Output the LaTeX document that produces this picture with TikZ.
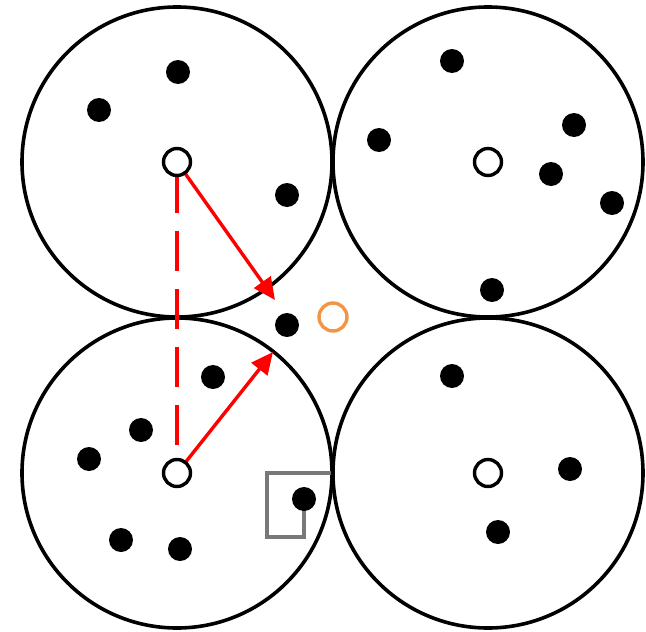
\documentclass[tikz,border=0pt]{standalone}
\usetikzlibrary{arrows.meta}
\definecolor{orangec}{RGB}{240,150,70}
\definecolor{boxgray}{RGB}{120,120,120}
\begin{document}
\begin{tikzpicture}[x=1pt,y=-1pt,
  cell/.style={draw=black,line width=3.6pt,circle,minimum size=310pt,inner sep=0pt},
  dot/.style={circle,fill=black,minimum size=24pt,inner sep=0pt},
  hub/.style={circle,draw=black,fill=white,line width=3.4pt,minimum size=27pt,inner sep=0pt},
  probe/.style={circle,draw=orangec,line width=3.4pt,minimum size=28pt,inner sep=0pt},
  redarrow/.style={draw=red,line width=3.4pt,-{Triangle[length=22pt,width=20pt]}},
  reddash/.style={draw=red,line width=3.2pt,dash pattern=on 40pt off 18pt}]
\useasboundingbox (0,0) rectangle (646,632);
% cells
\node[cell] (c1) at (177,162) {};
\node[cell] (c2) at (488,162) {};
\node[cell] (c3) at (177,473) {};
\node[cell] (c4) at (488,473) {};
% gray box (under its dot)
\coordinate (s) at (304,499);
\draw[boxgray,line width=3.4pt] (s) -- (304,537) -- (267,537) -- (267,473) -- (331,473);
% top-left dots
\node[dot] (a1) at (178,72) {};
\node[dot] (a2) at (99,110) {};
\node[dot] (a3) at (287,195) {};
% top-right dots
\node[dot] (b1) at (452,61) {};
\node[dot] (b2) at (379,140) {};
\node[dot] (b3) at (574,125) {};
\node[dot] (b4) at (551,174) {};
\node[dot] (b5) at (612,203) {};
\node[dot] (b6) at (492,290) {};
% middle
\node[dot] (m1) at (287,325) {};
\node[probe] (q) at (333,317) {};
% bottom-left dots
\node[dot] (d1) at (213,377) {};
\node[dot] (d2) at (141,430) {};
\node[dot] (d3) at (89,459) {};
\node[dot] (d4) at (121,540) {};
\node[dot] (d5) at (180,549) {};
\node[dot] (d6) at (s) {};
% bottom-right dots
\node[dot] (e1) at (452,376) {};
\node[dot] (e2) at (570,469) {};
\node[dot] (e3) at (498,532) {};
% red connectors
\coordinate (t1) at (275,300);
\coordinate (t2) at (273,352);
\coordinate (dend) at (177,460);
\draw[reddash] (177,173) -- (dend);
\draw[redarrow] (177,162) -- (t1);
\draw[redarrow] (177,473) -- (t2);
% hubs on top
\node[hub] (h1) at (177,162) {};
\node[hub] (h2) at (488,162) {};
\node[hub] (h3) at (177,473) {};
\node[hub] (h4) at (488,473) {};
\end{tikzpicture}
\end{document}
